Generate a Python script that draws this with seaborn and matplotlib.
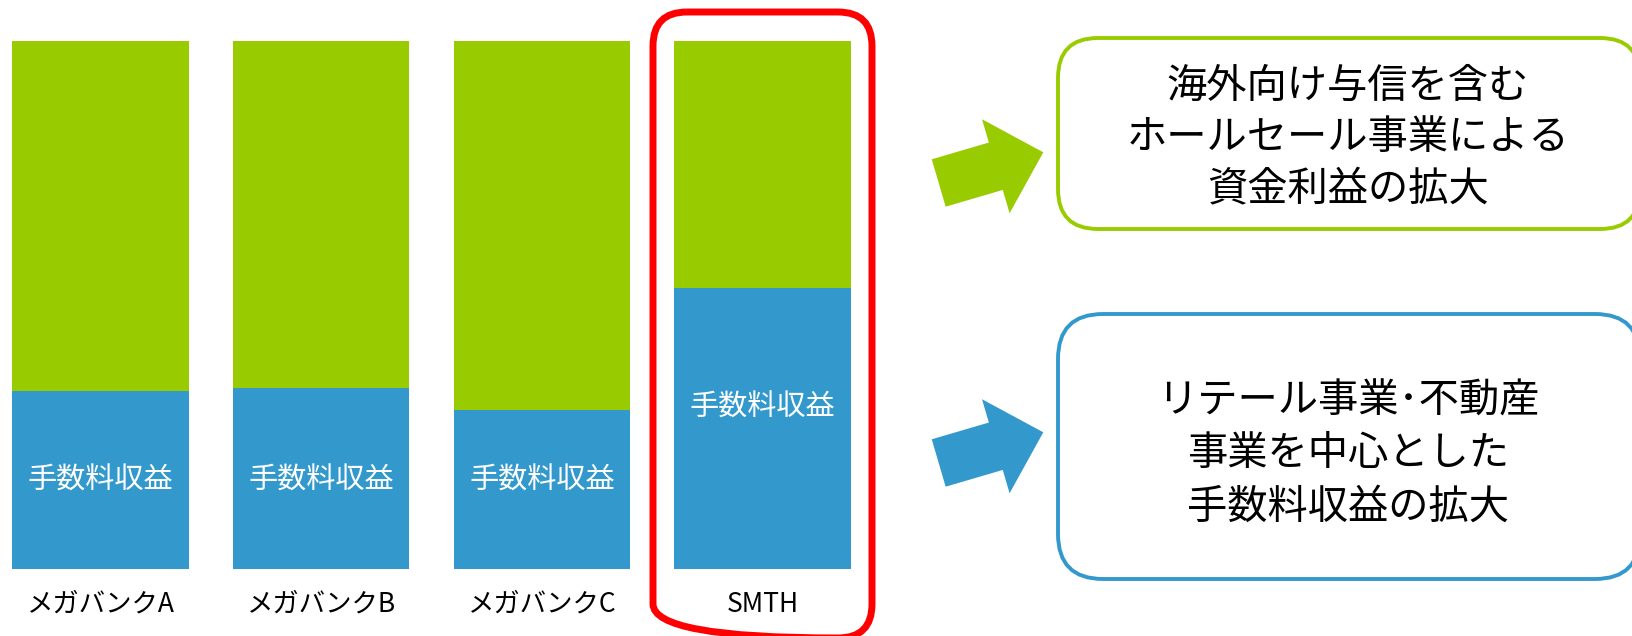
import matplotlib
matplotlib.use("Agg")
import matplotlib.pyplot as plt
from matplotlib.patches import FancyBboxPatch, FancyArrow
import seaborn as sns
import pandas as pd

# ---- data ----
categories = ["メガバンクA", "メガバンクB", "メガバンクC", "SMTH"]
fee_share = [33.7, 34.3, 30.2, 53.3]          # 手数料収益 (blue, bottom)
interest_share = [66.3, 65.7, 69.8, 46.7]     # 資金利益 (green, top)
bar_label = "手数料収益"
green_text = ["海外向け与信を含む", "ホールセール事業による", "資金利益の拡大"]
blue_text = ["リテール事業･不動産", "事業を中心とした", "手数料収益の拡大"]

GREEN = "#99CC00"
BLUE = "#3399CC"
RED = "#FF0000"

sns.set_theme(style="white")
plt.rcParams["font.family"] = ["Noto Sans CJK JP", "DejaVu Sans"]

W, H = 1632, 636
fig = plt.figure(figsize=(W / 100, H / 100), dpi=100)

df = pd.DataFrame({
    "bank": categories,
    "fee": fee_share,
    "total": [f + i for f, i in zip(fee_share, interest_share)],
})

# bar axes: bottom at 569px, top at 41px, x from 0 to 880px
ax = fig.add_axes([0, (H - 569) / H, 880 / W, (569 - 41) / H])
sns.barplot(data=df, x="bank", y="total", color=GREEN, saturation=1,
            width=0.8, linewidth=0, ax=ax)
sns.barplot(data=df, x="bank", y="fee", color=BLUE, saturation=1,
            width=0.8, linewidth=0, ax=ax)
ax.set_ylim(0, 100)
ax.set_xlim(-100.5 / 220.67, (880 - 100.5) / 220.67)
for s in ax.spines.values():
    s.set_visible(False)
ax.set_xlabel("")
ax.set_ylabel("")
ax.set_yticks([])
ax.tick_params(axis="x", length=0, pad=15.5, labelsize=19, labelcolor="black")
ax.set_facecolor("none")

for i, f in enumerate(fee_share):
    ypos = 16.7 if i < 3 else 30.5
    ax.text(i, ypos, bar_label, ha="center", va="center", color="white",
            fontsize=21)

# overlay in pixel coordinates
ov = fig.add_axes([0, 0, 1, 1])
ov.set_xlim(0, W)
ov.set_ylim(H, 0)
ov.axis("off")
ov.patch.set_alpha(0)

# red highlight box
ov.add_patch(FancyBboxPatch((653, 12), 872 - 653, 638 - 12,
                            boxstyle="round,pad=0,rounding_size=34",
                            fill=False, edgecolor=RED, linewidth=5))

# arrows
for dy, col in [(0, GREEN), (280, BLUE)]:
    ov.add_patch(FancyArrow(938.7, 183 + dy, 104.6, -30.7, width=49.4,
                            head_width=98, head_length=49.5,
                            length_includes_head=True, color=col, lw=0))

# text boxes
ov.add_patch(FancyBboxPatch((1058, 38), 1640 - 1058, 229 - 38,
                            boxstyle="round,pad=0,rounding_size=40",
                            fill=True, facecolor="white", edgecolor=GREEN,
                            linewidth=2.8))
ov.add_patch(FancyBboxPatch((1058, 314), 1640 - 1058, 579 - 314,
                            boxstyle="round,pad=0,rounding_size=45",
                            fill=True, facecolor="white", edgecolor=BLUE,
                            linewidth=2.8))

for k, line in enumerate(green_text):
    ov.text(1348, 86 + 52 * k, line, ha="center", va="center",
            fontsize=29, color="black")
for k, line in enumerate(blue_text):
    ov.text(1348, 401 + 53 * k, line, ha="center", va="center",
            fontsize=29, color="black")

fig.savefig("out.png", dpi=100, facecolor="white")
